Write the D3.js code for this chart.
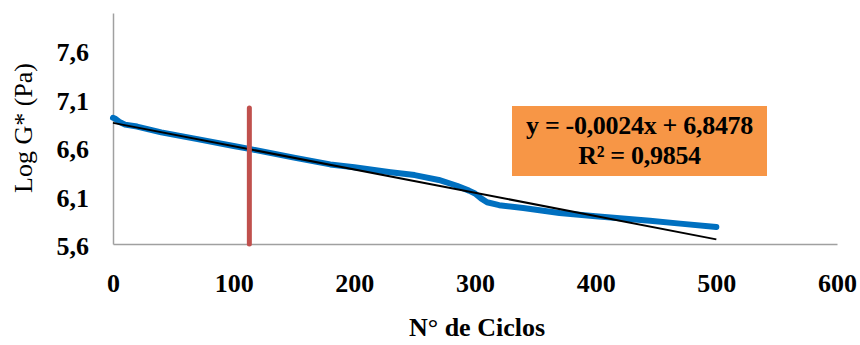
<!DOCTYPE html>
<html>
<head>
<meta charset="utf-8">
<script src="https://cdn.jsdelivr.net/npm/d3@7"></script>
<style>
  body { margin: 0; background: #fff; }
  text { font-family: "Liberation Serif", "Times New Roman", serif; }
</style>
</head>
<body>
<div id="chart"></div>
<script>
// data
var ciclos = [0, 2, 5, 10, 20, 40, 70, 100, 113, 150, 180, 200, 230, 250, 270, 285, 295, 300, 305, 310, 320, 340, 370, 400, 445, 470, 500];
var logG   = [6.90, 6.89, 6.86, 6.83, 6.81, 6.75, 6.68, 6.61, 6.58, 6.49, 6.42, 6.39, 6.34, 6.31, 6.26, 6.20, 6.15, 6.12, 6.07, 6.03, 6.00, 5.97, 5.92, 5.885, 5.84, 5.81, 5.775];
var xTicks = [0, 100, 200, 300, 400, 500, 600];
var yTicks = [5.6, 6.1, 6.6, 7.1, 7.6];
var slope = -0.0024, intercept = 6.8478;
var trendX = [0, 500];
var markerX = 113, markerY = [5.6, 7.0];
var eqLines = ["y = -0,0024x + 6,8478", "R² = 0,9854"];

var width = 860, height = 345;
var svg = d3.select("#chart").append("svg")
  .attr("width", width)
  .attr("height", height);

var x = d3.scaleLinear().domain([0, 600]).range([113, 837]);
var y = d3.scaleLinear().domain([5.6, 7.98]).range([244, 13]);

var fmt = function(d) { return d3.format(".1f")(d).replace(".", ","); };

// axes
var xAxis = svg.append("g")
  .attr("transform", "translate(0,244)")
  .call(d3.axisBottom(x).tickValues(xTicks).tickSize(0).tickPadding(0));
xAxis.select(".domain").attr("stroke", "#a0a0a0").attr("stroke-width", 1.5);
xAxis.selectAll("text")
  .attr("y", 48).attr("dy", null)
  .style("font-size", "26px").style("font-weight", "bold").attr("fill", "#000");

var yAxis = svg.append("g")
  .attr("transform", "translate(113,0)")
  .call(d3.axisLeft(y).tickValues(yTicks).tickSize(0).tickFormat(fmt));
yAxis.select(".domain").attr("stroke", "#a0a0a0").attr("stroke-width", 1.5);
yAxis.selectAll("text")
  .attr("x", -24).attr("dy", "0.42em")
  .style("font-size", "26px").style("font-weight", "bold").attr("fill", "#000");

// data line
var line = d3.line()
  .x(function(d, i) { return x(ciclos[i]); })
  .y(function(d) { return y(d); });
svg.append("path")
  .datum(logG)
  .attr("d", line)
  .attr("fill", "none")
  .attr("stroke", "#0070c0")
  .attr("stroke-width", 6)
  .attr("stroke-linecap", "round")
  .attr("stroke-linejoin", "round");

// linear trend
svg.append("line")
  .attr("x1", x(trendX[0])).attr("y1", y(intercept + slope * trendX[0]))
  .attr("x2", x(trendX[1])).attr("y2", y(intercept + slope * trendX[1]))
  .attr("stroke", "#000").attr("stroke-width", 2);

// red marker
svg.append("line")
  .attr("x1", x(markerX)).attr("x2", x(markerX))
  .attr("y1", y(markerY[0])).attr("y2", y(markerY[1]))
  .attr("stroke", "#c0504d").attr("stroke-width", 5)
  .attr("stroke-linecap", "round");

// equation box
svg.append("rect")
  .attr("x", 512).attr("y", 106).attr("width", 255).attr("height", 70)
  .attr("fill", "#f79646");
svg.selectAll(".eq").data(eqLines).enter().append("text")
  .attr("class", "eq")
  .attr("x", 639.5)
  .attr("y", function(d, i) { return 134 + i * 30; })
  .attr("text-anchor", "middle")
  .style("font-size", "26px").style("font-weight", "bold")
  .style("letter-spacing", "-0.3px")
  .text(function(d) { return d; });

// axis titles
svg.append("text")
  .attr("transform", "translate(32,128) rotate(-90)")
  .attr("text-anchor", "middle")
  .style("font-size", "26px")
  .text("Log G* (Pa)");
svg.append("text")
  .attr("x", 477).attr("y", 336)
  .attr("text-anchor", "middle")
  .style("font-size", "26px").style("font-weight", "bold")
  .text("N° de Ciclos");
</script>
</body>
</html>
